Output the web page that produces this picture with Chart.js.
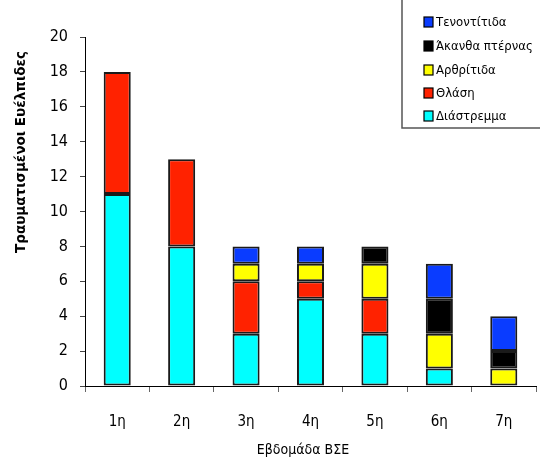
<!DOCTYPE html>
<html>
<head>
<meta charset="utf-8">
<script src="https://cdn.jsdelivr.net/npm/chart.js@4"></script>
<style>
  html, body { margin: 0; padding: 0; background: #fff; }
  #wrap { width: 540px; height: 461px; position: relative; }
</style>
</head>
<body>
<div id="wrap"><canvas id="c" width="540" height="461"></canvas></div>
<script>
// Injured cadets per training week, stacked by injury type
const weeks = ['1η', '2η', '3η', '4η', '5η', '6η', '7η'];
const sprain     = [11, 8, 3, 5, 3, 1, 0];  // Διάστρεμμα
const strain     = [7, 5, 3, 1, 2, 0, 0];   // Θλάση
const arthritis  = [0, 0, 1, 1, 2, 2, 1];   // Αρθρίτιδα
const heelSpur   = [0, 0, 0, 0, 1, 2, 1];   // Άκανθα πτέρνας
const tendinitis = [0, 0, 1, 1, 0, 2, 2];   // Τενοντίτιδα
const yTicks = [0, 2, 4, 6, 8, 10, 12, 14, 16, 18, 20];

const FONT = '"DejaVu Sans Condensed", "DejaVu Sans", sans-serif';

const seriesDefs = [
  { label: 'Διάστρεμμα', data: sprain, color: '#00FFFF' },
  { label: 'Θλάση', data: strain, color: '#FF2200' },
  { label: 'Αρθρίτιδα', data: arthritis, color: '#FFFF00' },
  { label: 'Άκανθα πτέρνας', data: heelSpur, color: '#000000' },
  { label: 'Τενοντίτιδα', data: tendinitis, color: '#0A3CFF' }
];

// Boxed legend in the top-right corner, listed top-down in reverse stack order
const boxLegend = {
  id: 'boxLegend',
  afterDraw(chart) {
    const ctx = chart.ctx;
    ctx.save();
    ctx.fillStyle = '#fff';
    ctx.fillRect(402, -2, 145, 130);
    ctx.strokeStyle = '#555';
    ctx.lineWidth = 1.5;
    ctx.strokeRect(402, -2, 145, 130);
    const ds = chart.data.datasets.slice().reverse();
    const rowsY = [22, 46, 70, 93, 116];
    ctx.font = '13px ' + FONT;
    ctx.textBaseline = 'middle';
    ds.forEach((d, i) => {
      const y = rowsY[i];
      ctx.fillStyle = d.backgroundColor;
      ctx.fillRect(424, y - 5, 9, 10);
      ctx.strokeStyle = '#000';
      ctx.lineWidth = 1.2;
      ctx.strokeRect(424, y - 5, 9, 10);
      ctx.fillStyle = '#000';
      ctx.fillText(d.label, 436, y + 1);
    });
    ctx.restore();
  }
};

// Axis titles
const axisTitles = {
  id: 'axisTitles',
  afterDraw(chart) {
    const ctx = chart.ctx;
    ctx.save();
    ctx.fillStyle = '#000';
    ctx.textAlign = 'center';
    ctx.textBaseline = 'middle';
    ctx.font = 'bold 13.5px "DejaVu Sans", sans-serif';
    ctx.translate(21, 152);
    ctx.rotate(-Math.PI / 2);
    ctx.fillText('Τραυματισμένοι Ευέλπιδες', 0, 0);
    ctx.restore();
    ctx.save();
    ctx.fillStyle = '#000';
    ctx.textAlign = 'center';
    ctx.textBaseline = 'middle';
    ctx.font = '14px ' + FONT;
    ctx.fillText('Εβδομάδα ΒΣΕ', 303, 450);
    ctx.restore();
  }
};

new Chart(document.getElementById('c'), {
  type: 'bar',
  data: {
    labels: weeks,
    datasets: seriesDefs.map(s => ({
      label: s.label,
      // empty segments are left out so no zero-height outline is drawn
      data: s.data.map(v => (v === 0 ? null : v)),
      backgroundColor: s.color,
      borderColor: '#1a1a1a',
      borderWidth: 2,
      borderSkipped: false,
      barPercentage: 0.42,
      categoryPercentage: 1
    }))
  },
  options: {
    responsive: false,
    animation: false,
    devicePixelRatio: 1,
    layout: { padding: { top: 37, right: 4, left: 0, bottom: 0 } },
    plugins: {
      legend: { display: false },
      tooltip: { enabled: false }
    },
    scales: {
      x: {
        stacked: true,
        afterFit(scale) { scale.height = 75; },
        border: { display: true, color: '#000', width: 1 },
        grid: { display: true, drawOnChartArea: false, drawTicks: true, tickLength: 6, color: '#666', offset: true },
        ticks: { color: '#000', font: { family: FONT, size: 15 }, padding: 21 }
      },
      y: {
        stacked: true,
        min: 0,
        max: 20,
        afterFit(scale) { scale.width = 85; },
        afterBuildTicks(scale) { scale.ticks = yTicks.map(v => ({ value: v })); },
        border: { display: true, color: '#000', width: 1 },
        grid: { display: true, drawOnChartArea: false, drawTicks: true, tickLength: 5, color: '#444' },
        ticks: { color: '#000', font: { family: FONT, size: 16 }, padding: 12 }
      }
    }
  },
  plugins: [boxLegend, axisTitles]
});
</script>
</body>
</html>
